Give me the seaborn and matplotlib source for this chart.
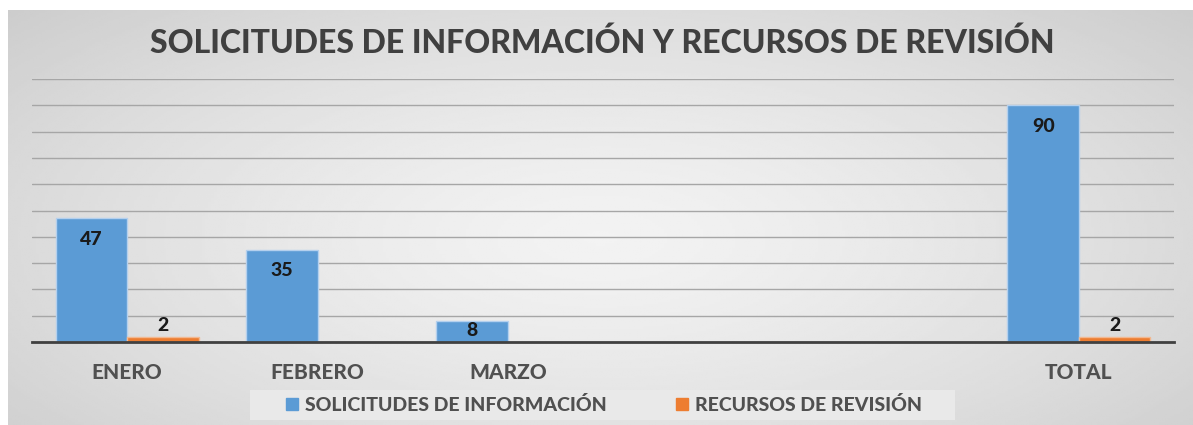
import matplotlib
matplotlib.use("Agg")
import matplotlib.pyplot as plt
import numpy as np
import pandas as pd
import seaborn as sns

months = ["ENERO", "FEBRERO", "MARZO", "", " ", "TOTAL"]
solicitudes = [47, 35, 8, np.nan, np.nan, 90]
recursos = [2, np.nan, np.nan, np.nan, np.nan, 2]
series_names = ["SOLICITUDES DE INFORMACIÓN", "RECURSOS DE REVISIÓN"]
title = "SOLICITUDES DE INFORMACIÓN Y RECURSOS DE REVISIÓN"

df = pd.DataFrame({
    "mes": months * 2,
    "serie": [series_names[0]] * len(months) + [series_names[1]] * len(months),
    "valor": solicitudes + recursos,
})

sns.set_theme(style="white")
plt.rcParams["font.family"] = ["Lato", "DejaVu Sans"]

fig = plt.figure(figsize=(11.93, 4.25), dpi=100, facecolor="white")

# radial grey background like the Excel chart area
bg = fig.add_axes([8 / 1193, 0, 1 - 8 / 1193, 1 - 10 / 425], zorder=-10)
yy, xx = np.mgrid[0:1:200j, 0:1:400j]
r = np.sqrt(((xx - 0.5) / 0.75) ** 2 + ((yy - 0.55) / 0.9) ** 2)
shade = 0.95 - 0.17 * np.clip(r, 0, 1.2) ** 1.4
bg.imshow(shade, cmap="gray", vmin=0, vmax=1, aspect="auto", extent=[0, 1, 0, 1])
bg.axis("off")

ax = fig.add_axes([32 / 1193, 83 / 425, (1174 - 32) / 1193, (342 - 79) / 425])
ax.set_facecolor("none")

sns.barplot(
    data=df, x="mes", y="valor", hue="serie", order=months, hue_order=series_names,
    palette=["#5B9BD5", "#ED7D31"], width=0.75, saturation=1, ax=ax,
    edgecolor="#b4d0ee", linewidth=1, legend=True,
)
for bar in ax.containers[1]:
    bar.set_edgecolor("#f2b890")

ax.set_ylim(0, 100)
ax.set_yticks(np.arange(0, 101, 10))
ax.yaxis.grid(True, color="#a6a6a6", linewidth=1)
ax.set_axisbelow(True)
ax.tick_params(axis="y", left=False, labelleft=False)
ax.tick_params(axis="x", bottom=False, pad=9, labelsize=15, labelcolor="#505050")
for lbl in ax.get_xticklabels():
    lbl.set_fontweight(900)
ax.set_xlabel("")
ax.set_ylabel("")
for side in ["left", "right", "top"]:
    ax.spines[side].set_visible(False)
ax.spines["bottom"].set_color("#404040")
ax.spines["bottom"].set_linewidth(2)

# value labels: blue inside the top of the bar, orange just above it
fig.canvas.draw()
px_per_unit = ax.transData.transform((0, 1))[1] - ax.transData.transform((0, 0))[1]
for b in ax.containers[0]:
    h = b.get_height()
    if not h > 0:
        continue
    bar_px = h * px_per_unit
    off = 9 if bar_px > 40 else 1
    ax.annotate(f"{h:.0f}", (b.get_x() + b.get_width() / 2, h), xytext=(0, -off),
                textcoords="offset points", ha="center", va="top",
                fontsize=14, fontweight=900, color="#1a1a1a")
labels = [f"{b.get_height():.0f}" if b.get_height() > 0 else "" for b in ax.containers[1]]
ax.bar_label(ax.containers[1], labels=labels, padding=2, fontsize=14,
             fontweight=900, color="#1a1a1a")

ax.get_legend().remove()
box = plt.Rectangle((250 / 1193, 5 / 425), 705 / 1193, 30 / 425, transform=fig.transFigure,
                    facecolor="#e9e9e9", edgecolor="none", zorder=-5)
fig.patches.append(box)
handles = [plt.Rectangle((0, 0), 1, 1, color=c) for c in ["#5B9BD5", "#ED7D31"]]
leg = fig.legend(
    handles, series_names, loc="center", bbox_to_anchor=(604 / 1193, 20 / 425),
    ncol=2, frameon=False, fontsize=14, handlelength=0.6, handleheight=0.6,
    handletextpad=0.35, columnspacing=3.6,
)
for t in leg.get_texts():
    t.set_color("#505050")
    t.set_fontweight(900)

fig.text(602 / 1193, 1 - 43 / 425, title, ha="center", va="center",
         fontsize=23, fontweight=900, color="#404040")

fig.savefig("out.png", dpi=100)
